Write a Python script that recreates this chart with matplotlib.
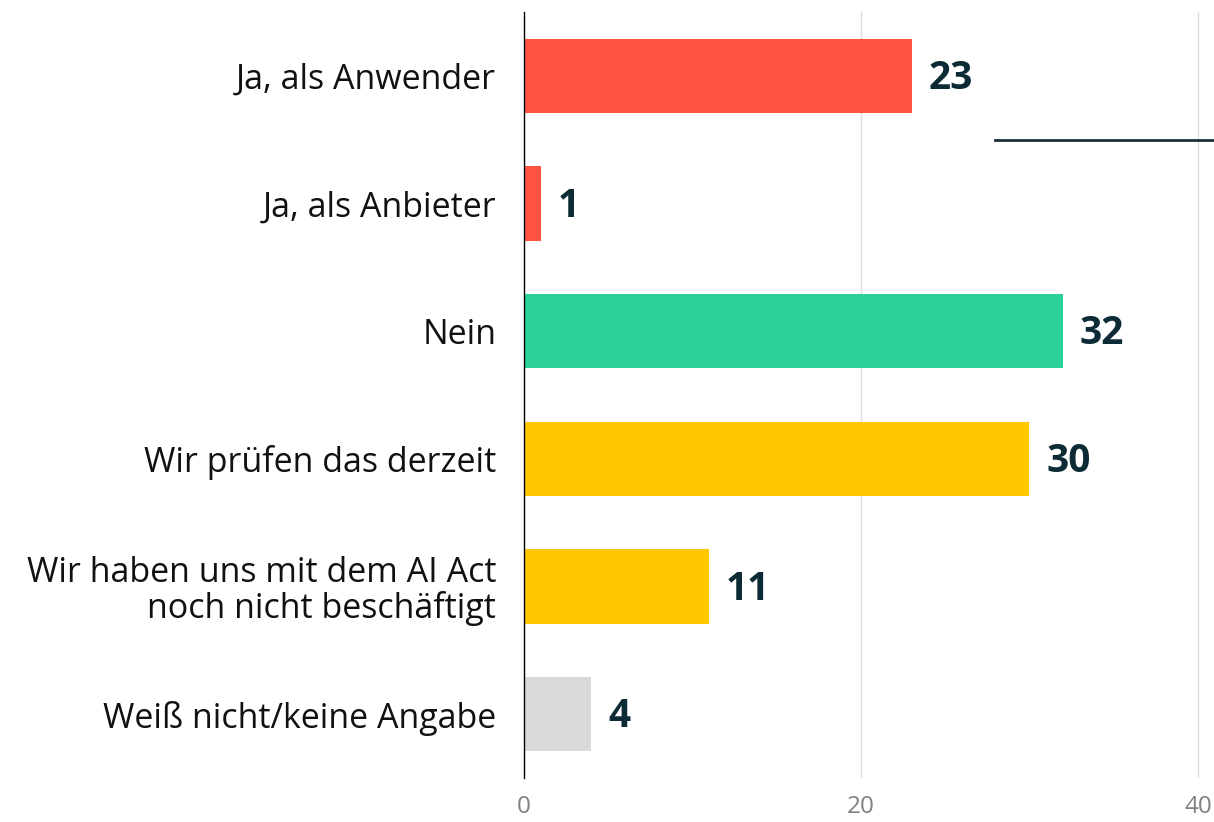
import matplotlib.pyplot as plt

plt.rcParams['font.family'] = ['Open Sans', 'DejaVu Sans']

# data
categories = ['Ja, als Anwender', 'Ja, als Anbieter', 'Nein', 'Wir prüfen das derzeit',
              'Wir haben uns mit dem AI Act\nnoch nicht beschäftigt', 'Weiß nicht/keine Angabe']
values = [23, 1, 32, 30, 11, 4]
colors = ['#FF5243', '#FF5243', '#2AD297', '#FFC800', '#FFC800', '#D9D9D9']
xticks = [0, 20, 40]

fig = plt.figure(figsize=(12.14, 8.22), dpi=100)
ax = fig.add_axes([524 / 1214, 1 - 778 / 822, 1 - 524 / 1214, 766 / 822])

ypos = list(range(len(categories)))
ax.barh(ypos, values, height=0.58, color=colors, zorder=3)

for y, v in zip(ypos, values):
    ax.annotate(str(v), (v, y), xytext=(12, -2), textcoords='offset points',
                ha='left', va='center', fontsize=28, fontweight='bold', color='#0D2B35')

ax.set_ylim(len(categories) - 0.5, -0.5)
ax.set_xlim(0, 40.95)
ax.set_yticks(ypos)
ax.set_yticklabels(categories, fontsize=24.5, color='#111111', ha='right',
                   linespacing=1.05)
ax.set_xticks(xticks)
ax.set_xticklabels([str(t) for t in xticks], fontsize=17.5, color='#808080')
ax.tick_params(axis='both', length=0)
ax.tick_params(axis='y', pad=20)
ax.tick_params(axis='x', pad=12)

ax.grid(axis='x', color='#DDDDDD', linewidth=1, zorder=0)
for s in ['top', 'right', 'bottom']:
    ax.spines[s].set_visible(False)
ax.spines['left'].set_color('black')
ax.spines['left'].set_linewidth(1)
ax.spines['left'].set_zorder(4)

# stray line from the original chart
ax.plot([0.683, 1.0], [0.833, 0.833], transform=ax.transAxes, color='#1A3038',
        linewidth=2, clip_on=False, zorder=5)

fig.savefig('out.png', dpi=100)
